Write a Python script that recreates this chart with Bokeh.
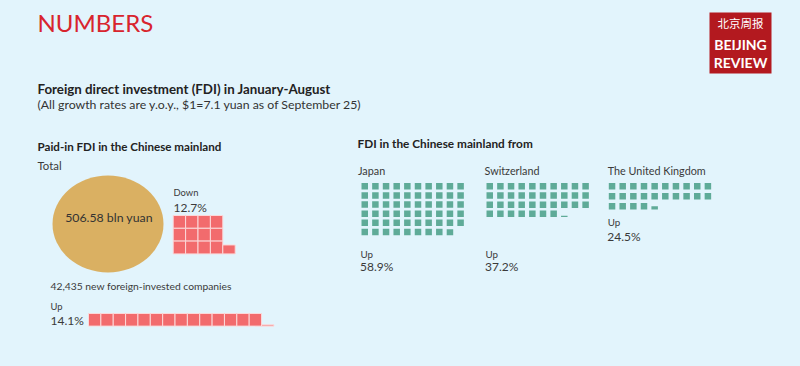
from bokeh.plotting import figure
from bokeh.models import Range1d
from bokeh.core.properties import value
from bokeh.embed import file_html
from bokeh.resources import INLINE

# ---------------- data ----------------
paid_in_total = 506.58          # bln yuan
paid_in_change = -12.7          # % y.o.y.
new_companies = 42435
new_companies_change = 14.1     # % y.o.y.
countries = ["Japan", "Switzerland", "The United Kingdom"]
country_change = [58.9, 37.2, 24.5]   # % y.o.y.

# ---------------- styles ----------------
BG = "#e2f4fc"
FONT = "Lato"
RED_TXT = "#d8242e"
GOLD = "#dab062"
CORAL = "#f26b6d"
TEAL = "#5fab98"
LOGO_RED = "#b3191f"
DARK = "#222222"
GREY = "#3a3a3a"
BASE_K = 0.36   # baseline compensation (fraction of font size)

W, H = 784, 350
p = figure(width=W, height=H, x_range=Range1d(0, W), y_range=Range1d(H, 0),
           output_backend="svg", toolbar_location=None, min_border=0)
p.axis.visible = False
p.grid.visible = False
p.outline_line_color = None
p.background_fill_color = BG
p.border_fill_color = BG


def label(x, y, txt, size, color=GREY, bold=False, align="left", font=FONT):
    p.text(x=[x], y=[y - BASE_K * size], text=[txt], text_font=value(font),
           text_font_size=f"{size}px", text_color=color,
           text_font_style="bold" if bold else "normal",
           text_align=align, text_baseline="alphabetic")


def waffle(val, ncols, x0, y0, dx, dy, sw, sh):
    full = int(round(val * 10)) // 10
    frac = round(val - full, 3)
    L, R, T, B = [], [], [], []
    for i in range(full):
        r, c = divmod(i, ncols)
        L.append(x0 + c * dx); R.append(x0 + c * dx + sw)
        T.append(y0 + r * dy); B.append(y0 + r * dy + sh)
    if frac > 0:
        if full % ncols == 0 and full > 0:
            r, c = (full - 1) // ncols, ncols
        else:
            r, c = divmod(full, ncols)
        bot = y0 + r * dy + sh
        L.append(x0 + c * dx); R.append(x0 + c * dx + sw)
        T.append(bot - frac * sh); B.append(bot)
    return L, R, T, B


# ---------------- header ----------------
label(37, 31, "NUMBERS", 24, RED_TXT)
label(37, 93, "Foreign direct investment (FDI) in January-August", 13.3, DARK, bold=True)
label(37, 108, "(All growth rates are y.o.y., $1=7.1 yuan as of September 25)", 12.3, "#333333")

# logo
p.quad(left=[709], right=[771], top=[12], bottom=[73], fill_color=LOGO_RED, line_color=None)
label(740, 27, "北京周报", 11.5, "white", align="center", font="Noto Sans CJK SC")
label(740, 49, "BEIJING", 14, "white", bold=True, align="center")
label(740, 67.5, "REVIEW", 14, "white", bold=True, align="center")

# ---------------- left panel ----------------
label(37, 150, "Paid-in FDI in the Chinese mainland", 11.6, DARK, bold=True)
label(37, 169, "Total", 11.4)
p.ellipse(x=[107.5], y=[223.5], width=111, height=97, fill_color=GOLD, line_color=None)
label(108.5, 221.5, f"{paid_in_total:.2f} bln yuan", 12.3, "#333333", align="center")

label(173, 195, "Down" if paid_in_change < 0 else "Up", 9.4)
label(173, 211, f"{abs(paid_in_change)}%", 12)
L, R, T, B = waffle(abs(paid_in_change), 4, 172.7, 215, 12.4, 12.8, 12.4, 12.8)
p.quad(left=L, right=R, top=T, bottom=B, fill_color=CORAL, line_color="#fbd9da", line_width=1)

label(50, 289.5, f"{new_companies:,} new foreign-invested companies", 10.3)
label(50, 309, "Up" if new_companies_change > 0 else "Down", 9.4)
label(50, 324, f"{abs(new_companies_change)}%", 12)
L, R, T, B = waffle(abs(new_companies_change), 20, 88, 313, 12.36, 12.6, 12.36, 12.6)
p.quad(left=L, right=R, top=T, bottom=B, fill_color=CORAL, line_color="#fbd9da", line_width=1)

# ---------------- right panel ----------------
label(357, 147.5, "FDI in the Chinese mainland from", 11.8, DARK, bold=True)
panels = [
    # label x, waffle x0, row pitch, up-label baseline, value baseline
    (357.5, 361.0, 9.13, 257, 270.7),
    (484.0, 486.0, 9.2, 257, 270.7),
    (607.3, 608.3, 10.0, 225.5, 240.7),
]
for name, chg, (lx, wx, dy, uy, vy) in zip(countries, country_change, panels):
    label(lx, 174, name, 10.8)
    L, R, T, B = waffle(abs(chg), 10, wx, 182.5, 10.65, dy, 6.5, 6.5)
    p.quad(left=L, right=R, top=T, bottom=B, fill_color=TEAL, line_color=None)
    label(wx - 1, uy, "Up" if chg > 0 else "Down", 9.8)
    label(wx - 1.5, vy, f"{abs(chg)}%", 12)

html = file_html(p, INLINE)
html = html.replace("<head>", f"<head><style>html,body{{background:{BG};}}</style>", 1)
open("out.html", "w").write(html)
